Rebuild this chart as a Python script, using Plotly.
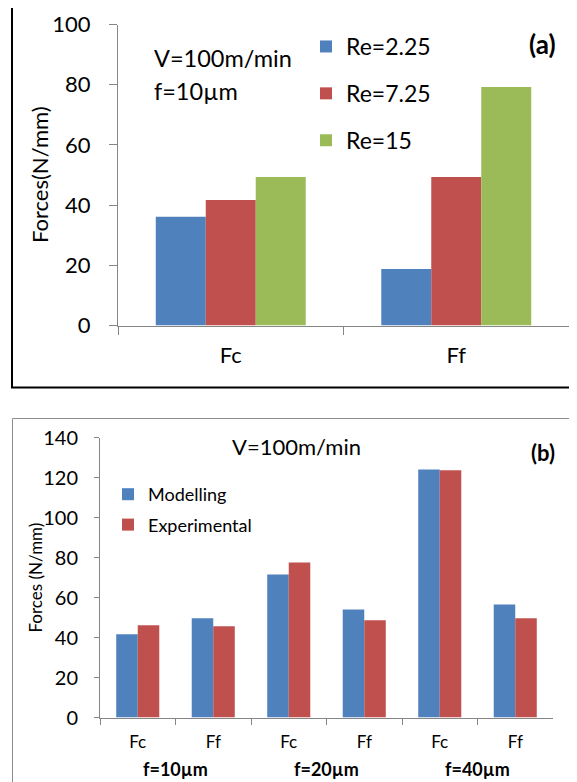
import plotly.graph_objects as go

# page body adds an 8px margin, so the figure is slightly smaller and coordinates shifted
OFF = 8
W, H = 577 - OFF, 782 - OFF

# ---------------- data: panel (a) ----------------
cats_a = ["Fc", "Ff"]
re_names = ["Re=2.25", "Re=7.25", "Re=15"]
re_225 = [36.1, 18.8]
re_725 = [41.7, 49.3]
re_15 = [49.3, 79.2]
yticks_a = [0, 20, 40, 60, 80, 100]

# ---------------- data: panel (b) ----------------
groups_b = ["f=10µm", "f=10µm", "f=20µm", "f=20µm", "f=40µm", "f=40µm"]
forces_b = ["Fc", "Ff", "Fc", "Ff", "Fc", "Ff"]
series_b = ["Modelling", "Experimental"]
modelling = [41.6, 49.6, 71.6, 54.1, 124.1, 56.6]
experimental = [46.1, 45.7, 77.6, 48.6, 123.7, 49.6]
yticks_b = [0, 20, 40, 60, 80, 100, 120, 140]

BLUE, RED, GREEN = "#4F81BD", "#C0504D", "#9BBB59"
AXC = "#868686"
FONT = "Lato"


def px(x):
    return (x - OFF) / W


def py(y):
    return 1 - (y - OFF) / H


fig = go.Figure()

for name, vals, col in zip(re_names, [re_225, re_725, re_15], [BLUE, RED, GREEN]):
    fig.add_trace(go.Bar(x=cats_a, y=vals, name=name, marker=dict(color=col, line=dict(width=0)),
                         xaxis="x", yaxis="y", legend="legend", legendgroup=name))

# unique category keys for panel (b); tick text shows only Fc / Ff
keys_b = [g + " " + f for g, f in zip(groups_b, forces_b)]
for name, vals, col, off in zip(series_b, [modelling, experimental], [BLUE, RED], [-0.285, 0.0]):
    fig.add_trace(go.Bar(x=keys_b, y=vals, name=name,
                         marker=dict(color=col, line=dict(width=0)),
                         width=0.285, offset=off,
                         xaxis="x2", yaxis="y2", legend="legend2", legendgroup=name))

axis_common = dict(showgrid=False, zeroline=False, showline=True, linecolor=AXC, linewidth=1,
                   ticks="outside", tickcolor=AXC, tickwidth=1, automargin=False)

fig.update_layout(
    width=W, height=H,
    margin=dict(l=0, r=0, t=0, b=0),
    paper_bgcolor="white", plot_bgcolor="white",
    barmode="group", bargap=0.335, bargroupgap=0,
    font=dict(family=FONT, color="black"),
    xaxis=dict(domain=[px(118), px(569)], anchor="y", type="category", tickson="boundaries",
               ticklen=8, tickfont=dict(size=22, color="black"), ticklabelstandoff=10,
               **axis_common),
    yaxis=dict(domain=[py(325.5), py(24.5)], anchor="x", range=[0, 100], tickvals=yticks_a,
               ticklen=8, tickfont=dict(size=22, color="black"), ticklabelstandoff=14,
               **axis_common),
    xaxis2=dict(domain=[px(100), px(553)], anchor="y2", type="category", tickson="boundaries",
                categoryorder="array", categoryarray=keys_b,
                tickmode="array", tickvals=keys_b, ticktext=forces_b,
                ticklen=6, tickfont=dict(size=17, color="black"),
                ticklabelstandoff=9, **axis_common),
    yaxis2=dict(domain=[py(717.5), py(437.7)], anchor="x2", range=[0, 140], tickvals=yticks_b,
                ticklen=5, tickfont=dict(size=20, color="black"), ticklabelstandoff=12,
                **axis_common),
    legend=dict(x=px(306), y=py(25), xanchor="left", yanchor="top", bgcolor="rgba(0,0,0,0)",
                font=dict(size=23, color="black"), tracegroupgap=14, traceorder="grouped"),
    legend2=dict(x=px(108), y=py(476), xanchor="left", yanchor="top", bgcolor="rgba(0,0,0,0)",
                 font=dict(size=18, color="black"), tracegroupgap=4, traceorder="grouped"),
    showlegend=True,
)

annotations = [
    dict(text="V=100m/min", x=px(152), y=py(58), xanchor="left", yanchor="middle", font=dict(size=23.5)),
    dict(text="f=10µm", x=px(152), y=py(91), xanchor="left", yanchor="middle", font=dict(size=23.5)),
    dict(text="<b>(a)</b>", x=px(542), y=py(44), xanchor="center", yanchor="middle", font=dict(size=26)),
    dict(text="Forces(N/mm)", x=px(39), y=py(175), xanchor="center", yanchor="middle",
         textangle=-90, font=dict(size=22)),
    dict(text="V=100m/min", x=px(296), y=py(446), xanchor="center", yanchor="middle", font=dict(size=22)),
    dict(text="<b>(b)</b>", x=px(543), y=py(453), xanchor="center", yanchor="middle", font=dict(size=22)),
    dict(text="Forces (N/mm)", x=px(36), y=py(577.6), xanchor="center", yanchor="middle",
         textangle=-90, font=dict(size=17)),
]
for a in annotations:
    a.update(xref="paper", yref="paper", showarrow=False)

# group labels under panel (b), centred on their categories
for g in dict.fromkeys(groups_b):
    idx = [i for i, gg in enumerate(groups_b) if gg == g]
    annotations.append(dict(text="<b>" + g + "</b>", x=sum(idx) / len(idx), xref="x2",
                            y=py(769), yref="paper", xanchor="center", yanchor="middle",
                            showarrow=False, font=dict(size=18)))

for a in annotations:
    a["font"] = dict(family=FONT, color="black", size=a["font"]["size"])
fig.update_layout(annotations=annotations)

fig.update_layout(shapes=[
    dict(type="rect", xref="paper", yref="paper", x0=px(12), x1=px(600), y0=py(387.5), y1=py(3.5),
         line=dict(color="black", width=2), fillcolor="rgba(0,0,0,0)", layer="below"),
    dict(type="rect", xref="paper", yref="paper", x0=px(12.5), x1=px(600), y0=py(800), y1=py(418.5),
         line=dict(color="#8C8C8C", width=1), fillcolor="rgba(0,0,0,0)", layer="below"),
])

fig.write_html("out.html")
